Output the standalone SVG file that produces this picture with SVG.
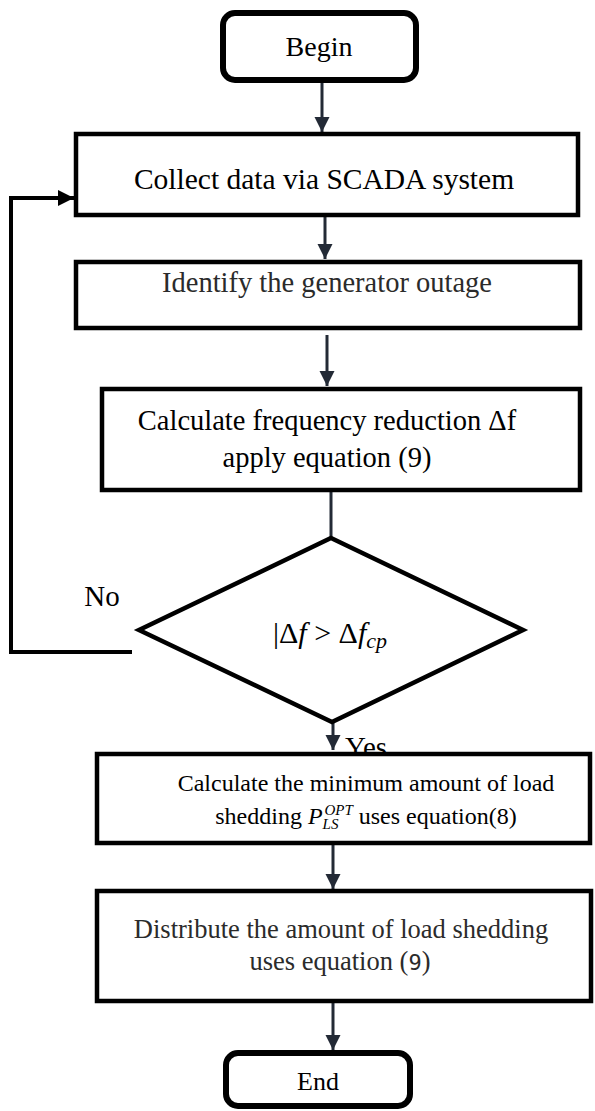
<svg xmlns="http://www.w3.org/2000/svg" width="595" height="1111" viewBox="0 0 595 1111">
  <style>
    .box { fill: #ffffff; stroke: #000000; stroke-width: 4.5; }
    .term { fill: #ffffff; stroke: #000000; stroke-width: 6; }
    .txt { font-family: "Liberation Serif", "Times New Roman", serif; fill: #000000; text-anchor: middle; }
    .grey { fill: #2b2b2b; }
    .math { font-family: "Liberation Serif", "Times New Roman", serif; font-style: italic; }
    .flow { fill: none; stroke: #232a36; stroke-width: 3; }
    .loop { fill: none; stroke: #000000; stroke-width: 4; }
  </style>
  <defs>
    <marker id="arrow" viewBox="0 0 10 10" refX="10" refY="5" markerWidth="5" markerHeight="5.5" markerUnits="strokeWidth" orient="auto">
      <path d="M0,0 L10,5 L0,10 Z" fill="#232a36"/>
    </marker>
    <marker id="arrowLoop" viewBox="0 0 10 10" refX="10" refY="5" markerWidth="4" markerHeight="4.6" markerUnits="strokeWidth" orient="auto">
      <path d="M0,0 L10,5 L0,10 Z" fill="#000000"/>
    </marker>
  </defs>

  <!-- "Yes" label sits under the box below, which hides its lower edge -->
  <text class="txt" x="366" y="757" font-size="29">Yes</text>

  <g id="connectors">
    <line class="flow" x1="322" y1="83" x2="322" y2="132" marker-end="url(#arrow)"/>
    <line class="flow" x1="325" y1="217" x2="325" y2="259" marker-end="url(#arrow)"/>
    <line class="flow" x1="327" y1="335" x2="327" y2="386" marker-end="url(#arrow)"/>
    <line class="flow" x1="331" y1="492" x2="331" y2="538"/>
    <line class="flow" x1="333" y1="722" x2="333" y2="750" marker-end="url(#arrow)"/>
    <line class="flow" x1="333" y1="845" x2="333" y2="889" marker-end="url(#arrow)"/>
    <line class="flow" x1="333" y1="1003" x2="333" y2="1050" marker-end="url(#arrow)"/>
    <polyline class="loop" points="132,652 11,652 11,198 74,198" marker-end="url(#arrowLoop)"/>
  </g>

  <g id="begin">
    <rect class="term" x="223" y="13" width="193" height="67" rx="12"/>
    <text class="txt" x="319" y="56" font-size="28">Begin</text>
  </g>

  <g id="collect">
    <rect class="box" x="76" y="134" width="502" height="81"/>
    <text class="txt" x="324" y="189" font-size="29.5">Collect data via SCADA system</text>
  </g>

  <g id="identify">
    <rect class="box" x="76" y="262" width="504" height="66"/>
    <text class="txt grey" x="327" y="292" font-size="28.5">Identify the generator outage</text>
  </g>

  <g id="calc-frequency">
    <rect class="box" x="102" y="389" width="478" height="101"/>
    <text class="txt" x="327" y="430" font-size="28.5">Calculate frequency reduction Δf</text>
    <text class="txt" x="327" y="467" font-size="28.5">apply equation (9)</text>
  </g>

  <g id="decision">
    <polygon class="box" points="331,538 523,630 332,722 139,630"/>
    <text class="txt" x="330" y="643" font-size="30" xml:space="preserve">|Δ<tspan class="math">f</tspan> &gt; Δ<tspan class="math">f</tspan><tspan class="math" font-size="22" dy="5">cp</tspan></text>
  </g>

  <text class="txt" x="102" y="606" font-size="29">No</text>

  <g id="calc-minimum">
    <rect class="box" x="97" y="754" width="493" height="89"/>
    <text class="txt" x="366" y="791" font-size="24">Calculate the minimum amount of load</text>
    <text class="txt" x="366" y="824" font-size="24">shedding <tspan class="math">P</tspan><tspan class="math" font-size="15" dy="5">LS</tspan><tspan class="math" font-size="15" dx="-14" dy="-14">OPT</tspan><tspan dy="9"> uses equation(8)</tspan></text>
  </g>

  <g id="distribute">
    <rect class="box" x="97" y="891" width="494" height="110"/>
    <text class="txt grey" x="341" y="938" font-size="26.5">Distribute the amount of load shedding</text>
    <text class="txt grey" x="340" y="970" font-size="26.5">uses equation (<tspan font-family="DejaVu Sans Mono, monospace" font-size="22">9</tspan>)</text>
  </g>

  <g id="end">
    <rect class="term" x="226" y="1053" width="184" height="53" rx="12"/>
    <text class="txt" x="318" y="1090" font-size="26">End</text>
  </g>
</svg>
